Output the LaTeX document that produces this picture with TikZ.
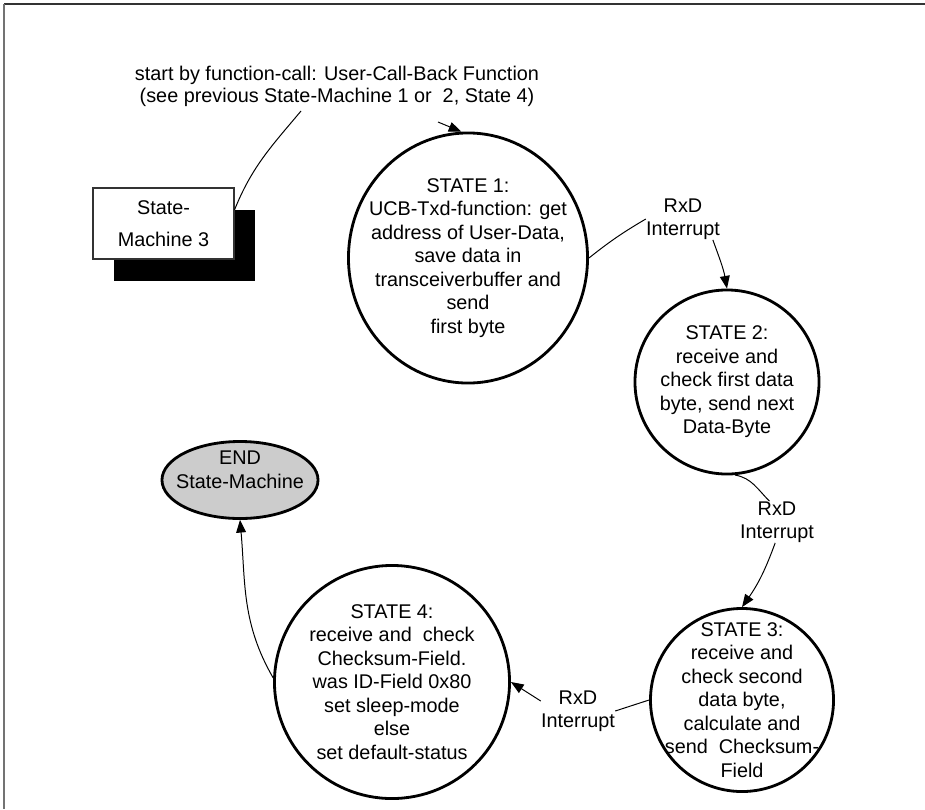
\documentclass[tikz,border=0pt]{standalone}
\usepackage{fontspec}
\setmainfont{Liberation Sans}
\usetikzlibrary{arrows.meta,shapes.geometric}
\begin{document}
\begin{tikzpicture}[x=0.025cm,y=-0.025cm,
  every node/.style={font=\fontsize{14.1pt}{16.7pt}\selectfont},
  statenode/.style={ellipse, draw, line width=2pt, inner sep=0pt},
  txt/.style={align=center, inner sep=0pt},
  conn/.style={line width=0.7pt},
  arr/.style={conn, -{Triangle[length=9pt,width=7pt]}},
]
\useasboundingbox (0,0) rectangle (925,809);
% frame (top and left edges only)
\draw[line width=1.5pt, black!80] (4,4) -- (925,4);
\draw[line width=1.5pt, black!55] (4,4) -- (4,809);

% State-Machine 3 box with shadow
\node[fill=black, minimum width=3.525cm, minimum height=1.775cm, inner sep=0pt] (smshadow) at (184.5,245.5) {};
\node[draw=black!80, fill=white, line width=0.8pt, minimum width=3.525cm, minimum height=1.775cm, inner sep=0pt, align=center,
      font=\fontsize{14.1pt}{22.8pt}\selectfont] (sm) at (163.5,223.5) {State-\\Machine 3};

% top label
\node[txt, font=\fontsize{14.1pt}{15.8pt}\selectfont] (start) at (337,86)
  {start by function-call: User-Call-Back Function\\(see previous State-Machine 1 or~ 2, State 4)};
\coordinate (startA) at (301,111);
\coordinate (startB) at (438,122);

% states
\node[statenode, minimum width=5.975cm, minimum height=6.25cm,
  label={[txt]center:{STATE 1:\\UCB-Txd-function: get\\address of User-Data,\\save data in\\transceiverbuffer and\\send\\first byte}}] (s1) at (468,258) {};
\node[statenode, minimum width=4.6cm, minimum height=4.6cm,
  label={[txt]center:{STATE 2:\\receive and\\check first data\\byte, send next\\Data-Byte}}] (s2) at (727,382) {};
\node[statenode, minimum width=4.575cm, minimum height=4.575cm,
  label={[txt]center:{STATE 3:\\receive and\\check second\\data byte,\\calculate and\\send~ Checksum-\\Field}}] (s3) at (742,700) {};
\node[statenode, minimum width=5.875cm, minimum height=5.825cm,
  label={[txt]center:{STATE 4:\\receive and~ check\\Checksum-Field.\\was ID-Field 0x80\\set sleep-mode\\else\\set default-status}}] (s4) at (392,682) {};
\node[statenode, fill=gray!40, minimum width=3.9cm, minimum height=1.925cm,
  label={[txt, yshift=0.25cm]center:{END\\State-Machine}}] (endsm) at (240,480) {};

% interrupt labels
\node[txt] (r1) at (683,219) {RxD\\Interrupt};
\node[txt] (r2) at (777,522) {RxD\\Interrupt};
\node[txt] (r3) at (578,711) {RxD\\Interrupt};

% connectors
\draw[conn] (sm.east |- smshadow.north) to[out=68, in=-130] (startA);
\draw[arr] (startB) -- (s1.93);
\draw[conn] (s1.east) to[bend left=4] (r1.west);
\draw[arr] (r1.-35) to[out=-70, in=100] (s2.north);
\draw[conn] (s2.-85) to[out=-10, in=135] (r2.110);
\draw[arr] (r2.-95) to[out=-110, in=55] (s3.north);
\draw[conn] (s3.west) -- (r3.east);
\draw[arr] (r3.165) -- (s4.east);
\draw[arr] (s4.178) to[out=120, in=-85] (endsm.south);
\end{tikzpicture}
\end{document}
